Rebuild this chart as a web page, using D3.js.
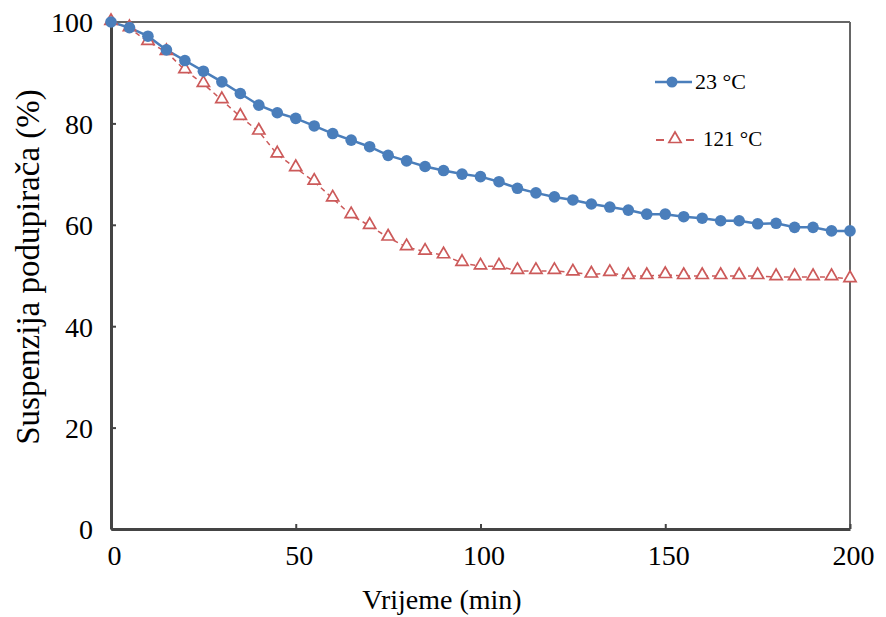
<!DOCTYPE html>
<html><head><meta charset="utf-8">
<script src="https://cdn.jsdelivr.net/npm/d3@7"></script>
<style>body{margin:0;background:#fff}svg{display:block}</style>
</head><body>
<script>
const times = [0,5,10,15,20,25,30,35,40,45,50,55,60,65,70,75,80,85,90,95,100,105,110,115,120,125,130,135,140,145,150,155,160,165,170,175,180,185,190,195,200];
const series23 = [100,98.9,97.2,94.5,92.4,90.3,88.2,85.9,83.6,82.1,81.0,79.5,78.0,76.7,75.4,73.7,72.6,71.5,70.7,70.0,69.5,68.5,67.2,66.3,65.5,64.9,64.1,63.5,62.9,62.1,62.1,61.6,61.3,60.8,60.8,60.2,60.3,59.5,59.5,58.8,58.8];
const series121 = [100,98.8,96.1,94.1,90.5,87.8,84.6,81.3,78.4,73.9,71.2,68.5,65.2,61.9,59.8,57.5,55.6,54.7,54.0,52.5,51.8,51.8,50.9,50.9,50.9,50.6,50.2,50.5,49.9,49.9,50.1,49.9,49.9,49.9,49.9,49.9,49.7,49.7,49.7,49.7,49.3];
const xTicks = [0,50,100,150,200];
const yTicks = [0,20,40,60,80,100];
const seriesNames = ["23 °C","121 °C"];
const xLabel = "Vrijeme (min)";
const yLabel = "Suspenzija podupirača (%)";

const W=886,H=617;
const svg=d3.select("body").append("svg").attr("width",W).attr("height",H);
const x=d3.scaleLinear().domain([0,200]).range([111,850]);
const y=d3.scaleLinear().domain([0,100]).range([529,22]);
const font="Liberation Serif";
const blue="#4a7ebb", red="#cc5a5a";

// frame
svg.append("line").attr("x1",x(0)).attr("x2",x(200)).attr("y1",y(100)).attr("y2",y(100)).attr("stroke","#666").attr("stroke-width",2);
svg.append("line").attr("x1",x(200)).attr("x2",x(200)).attr("y1",y(100)).attr("y2",y(0)).attr("stroke","#666").attr("stroke-width",2);

// axes
const xAxis=d3.axisBottom(x).tickValues(xTicks).tickSizeInner(-5).tickSizeOuter(0).tickPadding(16);
const gx=svg.append("g").attr("transform",`translate(0,${y(0)})`).call(xAxis);
const yAxis=d3.axisLeft(y).tickValues(yTicks).tickSizeInner(-5).tickSizeOuter(0).tickPadding(18);
const gy=svg.append("g").attr("transform",`translate(${x(0)},0)`).call(yAxis);
[gx,gy].forEach(g=>{
  g.attr("font-family",font);
  g.select(".domain").attr("stroke","#444").attr("stroke-width",3);
  g.selectAll(".tick line").attr("stroke","#444").attr("stroke-width",2);
  g.selectAll("text").attr("font-family",font).attr("font-size",28).attr("fill","#000");
});
gx.selectAll(".tick text").attr("dx",3);
gy.selectAll(".tick text").attr("dy","0.35em");

svg.append("text").attr("x",442).attr("y",609).attr("text-anchor","middle").attr("font-family",font).attr("font-size",28).text(xLabel);
svg.append("text").attr("transform","translate(39,267) rotate(-90)").attr("text-anchor","middle").attr("font-family",font).attr("font-size",33).text(yLabel);

const d23=times.map((t,i)=>[t,series23[i]]);
const d121=times.map((t,i)=>[t,series121[i]]);
const line=d3.line().x(d=>x(d[0])).y(d=>y(d[1]));

svg.append("path").datum(d121).attr("d",line).attr("fill","none").attr("stroke",red).attr("stroke-width",1.5).attr("stroke-dasharray","5,4");
svg.append("path").datum(d23).attr("d",line).attr("fill","none").attr("stroke",blue).attr("stroke-width",2.5);

const tri=d3.symbol().type(d3.symbolTriangle).size(64);
svg.selectAll(".tri").data(d121).enter().append("path").attr("d",tri)
  .attr("transform",d=>`translate(${x(d[0])},${y(d[1])-1})`).attr("fill","#fff").attr("stroke",red).attr("stroke-width",1.7);
svg.selectAll(".dot").data(d23).enter().append("circle").attr("cx",d=>x(d[0])).attr("cy",d=>y(d[1])).attr("r",5.8).attr("fill",blue);

// legend
const lg=svg.append("g");
lg.append("line").attr("x1",655).attr("x2",692).attr("y1",82).attr("y2",82).attr("stroke",blue).attr("stroke-width",2.5);
lg.append("circle").attr("cx",672).attr("cy",82).attr("r",5.5).attr("fill",blue);
lg.append("text").attr("x",695).attr("y",89).attr("font-family",font).attr("font-size",22).text(seriesNames[0]);
lg.append("line").attr("x1",656).attr("x2",694).attr("y1",140).attr("y2",140).attr("stroke",red).attr("stroke-width",1.8).attr("stroke-dasharray","8,22");
lg.append("path").attr("d",tri).attr("transform","translate(675,139)").attr("fill","#fff").attr("stroke",red).attr("stroke-width",1.7);
lg.append("text").attr("x",703).attr("y",146).attr("font-family",font).attr("font-size",21).text(seriesNames[1]);
</script>
</body></html>
